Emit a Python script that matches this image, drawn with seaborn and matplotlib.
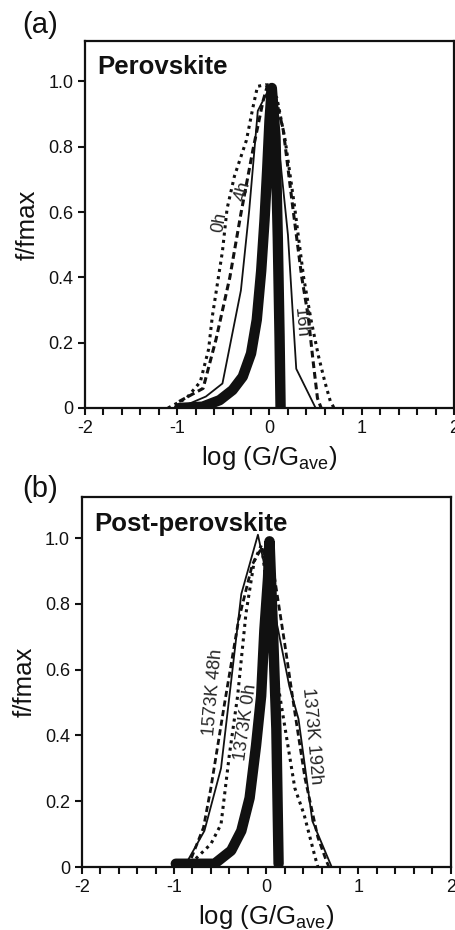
import numpy as np
import pandas as pd
import seaborn as sns
import matplotlib.pyplot as plt
from matplotlib.ticker import MultipleLocator

# ---- panel (a): perovskite ----
a_0h_x = [-1.10, -0.90, -0.75, -0.66, -0.62, -0.51, -0.46, -0.38, -0.25, -0.18, -0.13, -0.04,
          0.08, 0.17, 0.27, 0.37, 0.45, 0.53, 0.60, 0.66, 0.70]
a_0h_y = [0.00, 0.03, 0.08, 0.18, 0.28, 0.48, 0.61, 0.71, 0.82, 0.92, 0.985, 0.99,
          0.95, 0.82, 0.62, 0.40, 0.27, 0.16, 0.08, 0.02, 0.00]
a_4h_x = [-0.98, -0.72, -0.58, -0.43, -0.31, -0.18, -0.07, -0.02, 0.05, 0.15, 0.25, 0.35,
          0.42, 0.47, 0.52, 0.56]
a_4h_y = [0.02, 0.06, 0.21, 0.40, 0.595, 0.79, 0.94, 0.99, 0.97, 0.85, 0.62, 0.40,
          0.28, 0.15, 0.03, 0.00]
a_16h_x = [-0.98, -0.69, -0.51, -0.31, -0.22, -0.127, 0.00, 0.04, 0.12, 0.20, 0.25, 0.29, 0.50]
a_16h_y = [0.00, 0.035, 0.075, 0.36, 0.605, 0.91, 0.98, 0.93, 0.75, 0.53, 0.30, 0.12, 0.00]
a_fit_x = [-0.98, -0.725, -0.54, -0.40, -0.29, -0.20, -0.138, -0.09, -0.054, -0.025, 0.00,
           0.025, 0.065, 0.09, 0.109, 0.12]
a_fit_y = [0.00, 0.004, 0.024, 0.055, 0.096, 0.167, 0.27, 0.42, 0.575, 0.73, 0.88,
           0.98, 0.83, 0.52, 0.22, 0.00]

# ---- panel (b): post-perovskite ----
b_48h_x = [-0.89, -0.67, -0.49, -0.27, -0.09, 0.13, 0.25, 0.35, 0.50, 0.71]
b_48h_y = [0.00, 0.11, 0.30, 0.83, 1.01, 0.72, 0.55, 0.45, 0.14, 0.00]
b_192h_x = [-0.85, -0.68, -0.60, -0.45, -0.30, -0.15, -0.05, 0.09, 0.20, 0.31, 0.42, 0.56, 0.65, 0.68]
b_192h_y = [0.00, 0.12, 0.24, 0.50, 0.75, 0.92, 0.97, 0.88, 0.68, 0.47, 0.27, 0.09, 0.02, 0.00]
b_0h_x = [-0.82, -0.60, -0.49, -0.40, -0.31, -0.22, -0.13, -0.05, 0.13, 0.31, 0.41, 0.53, 0.56]
b_0h_y = [0.01, 0.07, 0.13, 0.34, 0.52, 0.77, 0.93, 0.98, 0.55, 0.24, 0.16, 0.03, 0.00]
b_fit_x = [-0.98, -0.78, -0.56, -0.38, -0.27, -0.18, -0.11, -0.055, -0.02, 0.02, 0.036,
           0.073, 0.11, 0.134]
b_fit_y = [0.01, 0.01, 0.01, 0.05, 0.11, 0.21, 0.37, 0.52, 0.72, 0.88, 0.99,
           0.72, 0.42, 0.01]

sns.set_style("ticks")
plt.rcParams['font.family'] = ['Liberation Sans', 'DejaVu Sans']
plt.rcParams['mathtext.default'] = 'regular'
plt.rcParams['axes.unicode_minus'] = False

fig = plt.figure(figsize=(4.55, 9.3), dpi=100)
ax_a = fig.add_axes([0.1868, 0.5613, 0.811, 0.395])
ax_b = fig.add_axes([0.1796, 0.0677, 0.811, 0.398])

dotted = (0, (1, 1.4))
dashed = (0, (2.2, 1.3))


def draw(ax, x, y, style, lw):
    df = pd.DataFrame({'x': x, 'y': y})
    sns.lineplot(data=df, x='x', y='y', ax=ax, sort=False, estimator=None,
                 color='#111111', linestyle=style, lw=lw, solid_capstyle='round',
                 solid_joinstyle='round', dash_capstyle='butt')


draw(ax_a, a_0h_x, a_0h_y, dotted, 2.2)
draw(ax_a, a_4h_x, a_4h_y, dashed, 2.2)
draw(ax_a, a_16h_x, a_16h_y, '-', 1.3)
draw(ax_a, a_fit_x, a_fit_y, '-', 7.5)

draw(ax_b, b_48h_x, b_48h_y, '-', 1.3)
draw(ax_b, b_192h_x, b_192h_y, dashed, 2.0)
draw(ax_b, b_0h_x, b_0h_y, dotted, 2.2)
draw(ax_b, b_fit_x, b_fit_y, '-', 7.5)

for ax, title in [(ax_a, 'Perovskite'), (ax_b, 'Post-perovskite')]:
    ax.set_xlim(-2, 2)
    ax.set_ylim(0, 1.125)
    ax.xaxis.set_minor_locator(MultipleLocator(0.2))
    ax.set_yticks([0, 0.2, 0.4, 0.6, 0.8, 1.0])
    ax.set_yticklabels(['0', '0.2', '0.4', '0.6', '0.8', '1.0'])
    ax.set_xticks([-2, -1, 0, 1, 2])
    ax.set_xticklabels(['-2', '-1', '0', '1', '2'])
    ax.tick_params(which='both', direction='out', length=5, width=1.5, labelsize=13,
                   color='#111111', labelcolor='#111111')
    for s in ax.spines.values():
        s.set_linewidth(1.6)
        s.set_color('#111111')
    ax.set_xlabel(r'log (G/G$_{ave}$)', fontsize=18.5, labelpad=5, color='#111111')
    ax.set_ylabel('f/fmax', fontsize=18.5, labelpad=6, color='#111111')
    ax.text(0.033, 0.908, title, transform=ax.transAxes, fontsize=18.5,
            fontweight='bold', va='baseline', color='#111111')

# curve labels
ax_a.text(-0.54, 0.57, '0h', rotation=80, fontsize=13, ha='center', va='center')
ax_a.text(-0.29, 0.665, '4h', rotation=75, fontsize=13, ha='center', va='center')
ax_a.text(0.34, 0.26, '16h', rotation=-85, fontsize=13, ha='center', va='center')

ax_b.text(-0.57, 0.53, '1573K 48h', rotation=85, fontsize=13, ha='center', va='center')
ax_b.text(-0.22, 0.44, '1373K 0h', rotation=82, fontsize=13, ha='center', va='center')
ax_b.text(0.49, 0.40, '1373K 192h', rotation=-85, fontsize=13, ha='center', va='center')

fig.text(22 / 455, 0.9645, '(a)', fontsize=21, va='baseline', color='#111111')
fig.text(22 / 455, 0.4656, '(b)', fontsize=21, va='baseline', color='#111111')

fig.savefig('out.png', dpi=100)
